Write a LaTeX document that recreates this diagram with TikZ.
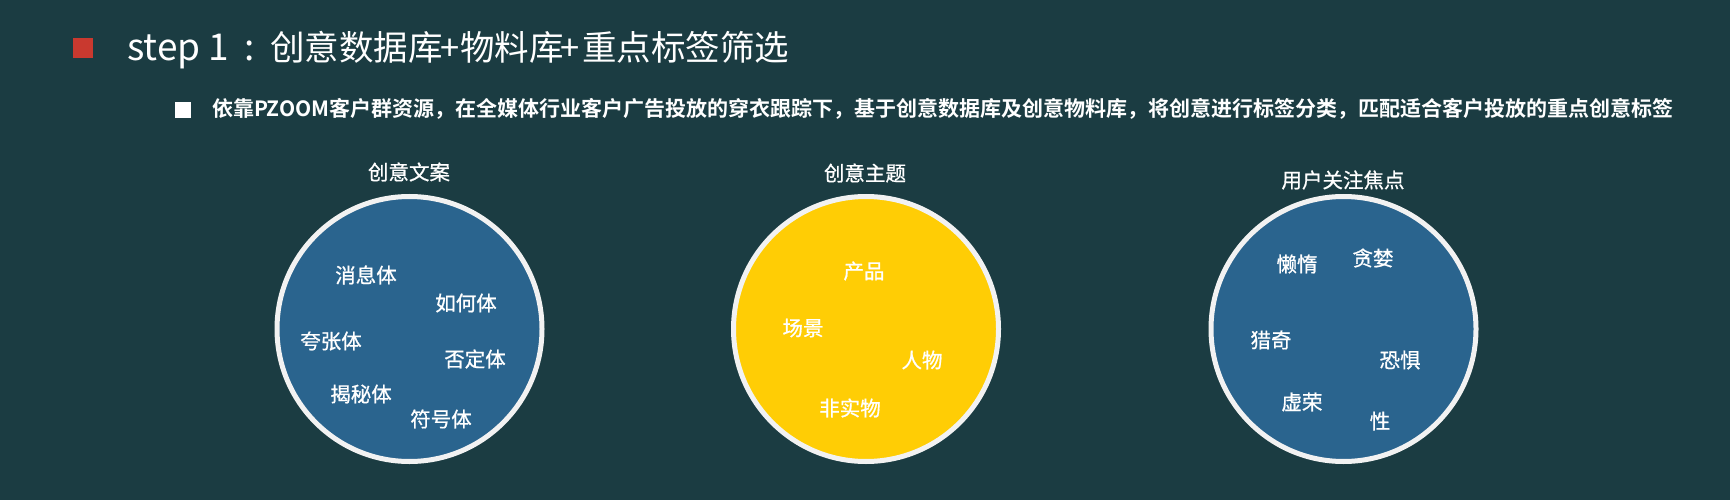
\documentclass[tikz,border=0pt]{standalone}
\usepackage{fontspec}
\setmainfont{Noto Sans CJK SC}[BoldFont={Noto Sans CJK SC Bold}]
\newfontfamily\medfont{Noto Sans CJK SC}[FakeBold=0.8]
\definecolor{bgc}{HTML}{1B3C42}
\definecolor{redsq}{HTML}{C9392F}
\definecolor{cblue}{HTML}{2A648E}
\definecolor{cyellow}{HTML}{FFCD05}
\definecolor{rim}{HTML}{F2F2F2}
\tikzset{
  bubble/.style={circle, draw=rim, line width=5pt, minimum size=265pt, inner sep=0pt},
  lbl/.style={text=white, inner sep=0pt, font=\medfont\fontsize{20.5}{24}\selectfont},
  ctitle/.style={text=white, inner sep=0pt, font=\medfont\fontsize{20.5}{24}\selectfont},
  ttl/.style={text=white, inner sep=0pt, font=\fontsize{34.5}{38}\selectfont},
}
\begin{document}
\begin{tikzpicture}[x=1pt,y=-1pt]
\fill[bgc] (0,0) rectangle (1730,500);
\useasboundingbox (0,0) rectangle (1730,500);
% header
\node[fill=redsq, minimum size=20pt, inner sep=0pt] (rsq) at (83,48.5) {};
\node[ttl, anchor=base west, font=\fontsize{37}{40}\selectfont] (step) at (127,61) {step 1};
\node[ttl, anchor=base, font=\fontsize{37}{40}\selectfont] (colon) at (249.5,61) {:};
\node[ttl, anchor=base west] (tA) at (270,61) {创意数据库};
\node[ttl, anchor=base] (p1) at (450,61) {+};
\node[ttl, anchor=base west] (tB) at (460,61) {物料库};
\node[ttl, anchor=base] (p2) at (570.5,61) {+};
\node[ttl, anchor=base west] (tC) at (582,61) {重点标签筛选};
\node[fill=white, minimum size=16pt, inner sep=0pt] (wsq) at (182.5,110) {};
\node[anchor=west, text=white, inner sep=0pt, font=\bfseries\fontsize{21}{25}\selectfont] (sub) at (212,109) {依靠PZOOM客户群资源，在全媒体行业客户广告投放的穿衣跟踪下，基于创意数据库及创意物料库，将创意进行标签分类，匹配适合客户投放的重点创意标签};
% circle 1
\node[bubble, fill=cblue] (c1) at (409.5,329) {};
\node[ctitle] (t1) at (409,172) {创意文案};
\node[lbl] (a1) at (366,275) {消息体};
\node[lbl] (a2) at (466,303) {如何体};
\node[lbl] (a3) at (331,341) {夸张体};
\node[lbl] (a4) at (475,359) {否定体};
\node[lbl] (a5) at (361,394) {揭秘体};
\node[lbl] (a6) at (441,419) {符号体};
% circle 2
\node[bubble, fill=cyellow] (c2) at (866,329) {};
\node[ctitle] (t2) at (865,173) {创意主题};
\node[lbl] (b1) at (864,271) {产品};
\node[lbl] (b2) at (803,328) {场景};
\node[lbl] (b3) at (922,360) {人物};
\node[lbl] (b4) at (850,408) {非实物};
% circle 3
\node[bubble, fill=cblue] (c3) at (1343.5,329) {};
\node[ctitle] (t3) at (1343,180) {用户关注焦点};
\node[lbl] (d1) at (1297,264) {懒惰};
\node[lbl] (d2) at (1373,258) {贪婪};
\node[lbl] (d3) at (1271,340) {猎奇};
\node[lbl] (d4) at (1400,360) {恐惧};
\node[lbl] (d5) at (1302,402) {虚荣};
\node[lbl] (d6) at (1380,421) {性};
\end{tikzpicture}
\end{document}
